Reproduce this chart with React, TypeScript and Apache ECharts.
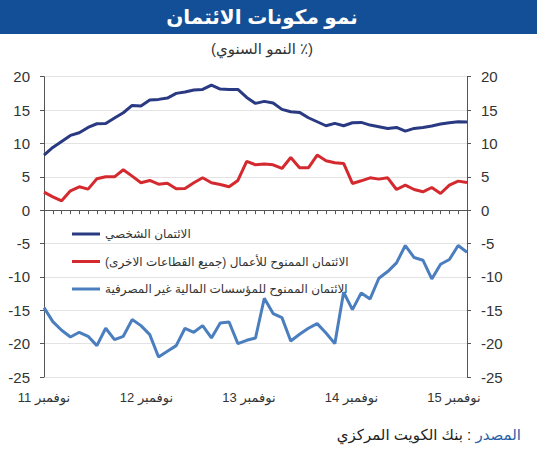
import React, { useEffect, useRef } from "react";
import * as echarts from "echarts";

const categories = [
  "2011-11", "2011-12",
  "2012-01", "2012-02", "2012-03", "2012-04", "2012-05", "2012-06", "2012-07", "2012-08", "2012-09", "2012-10", "2012-11", "2012-12",
  "2013-01", "2013-02", "2013-03", "2013-04", "2013-05", "2013-06", "2013-07", "2013-08", "2013-09", "2013-10", "2013-11", "2013-12",
  "2014-01", "2014-02", "2014-03", "2014-04", "2014-05", "2014-06", "2014-07", "2014-08", "2014-09", "2014-10", "2014-11", "2014-12",
  "2015-01", "2015-02", "2015-03", "2015-04", "2015-05", "2015-06", "2015-07", "2015-08", "2015-09", "2015-10", "2015-11",
];

const personalCredit = [
  8.25, 9.4, 10.3, 11.2, 11.6, 12.4, 12.95, 13.0, 13.8, 14.6, 15.7, 15.6, 16.5, 16.6, 16.8, 17.5, 17.7, 18.0, 18.1, 18.75,
  18.15, 18.1, 18.1, 16.9, 16.0, 16.3, 16.05, 15.1, 14.75, 14.65, 13.85, 13.25, 12.65, 13.0, 12.65, 13.1, 13.15, 12.75, 12.5,
  12.25, 12.4, 11.85, 12.25, 12.4, 12.6, 12.9, 13.1, 13.25, 13.2,
];

const businessCredit = [
  2.7, 2.0, 1.4, 2.9, 3.5, 3.15, 4.7, 5.0, 5.0, 6.05, 5.1, 4.1, 4.45, 3.9, 4.05, 3.2, 3.25, 4.1, 4.85, 4.1,
  3.85, 3.5, 4.45, 7.3, 6.8, 6.9, 6.8, 6.25, 7.9, 6.35, 6.35, 8.25, 7.4, 7.1, 7.0, 4.0, 4.4, 4.85, 4.65,
  4.85, 3.1, 3.75, 3.1, 2.75, 3.4, 2.5, 3.75, 4.35, 4.15,
];

const nbfiCredit = [
  -14.6, -16.7, -18.0, -19.0, -18.3, -18.9, -20.3, -17.7, -19.4, -18.9, -16.4, -17.3, -18.65, -22.0, -21.15, -20.3, -17.7, -18.3, -17.3, -19.15,
  -16.9, -16.75, -20.0, -19.5, -19.15, -13.2, -15.5, -16.1, -19.6, -18.6, -17.7, -17.0, -18.4, -20.0, -12.3, -14.9, -12.4, -13.3, -10.2,
  -9.2, -7.9, -5.3, -7.1, -7.5, -10.3, -8.1, -7.4, -5.3, -6.3,
];

const xTickLabels = ["نوفمبر 11", "نوفمبر 12", "نوفمبر 13", "نوفمبر 14", "نوفمبر 15"];

const seriesNames = [
  "الائتمان الشخصي",
  "الائتمان الممنوح للأعمال (جميع القطاعات الاخرى)\u200F",
  "الائتمان الممنوح للمؤسسات المالية غير المصرفية",
];
const seriesColors = ["#2a3a82", "#d42a2f", "#4a7ebf"];

const titleText = "نمو مكونات الائتمان";
const subtitleWords = "النمو السنوي";
const subtitleUnit = " ٪)";
const sourceLabel = "المصدر";
const sourceText = "بنك الكويت المركزي";

const FONT = "Arial, 'Liberation Sans', 'DejaVu Sans', sans-serif";

export default function App() {
  const ref = useRef<HTMLDivElement>(null);

  useEffect(() => {
    if (!ref.current) return;
    const chart = echarts.init(ref.current, undefined, { renderer: "svg" });
    const seriesData = [personalCredit, businessCredit, nbfiCredit];

    const yAxisBase = {
      type: "value",
      min: -25,
      max: 20,
      interval: 5,
      axisLine: { show: true, onZero: false, lineStyle: { color: "#555", width: 1 } },
      axisTick: { show: true, length: 4, lineStyle: { color: "#555" } },
      axisLabel: { margin: 14, fontSize: 15, color: "#333", fontFamily: FONT },
    };

    chart.setOption({
      animation: false,
      backgroundColor: "#ffffff",
      textStyle: { fontFamily: FONT },
      grid: { left: 44, right: 70, top: 76.7, bottom: 73, containLabel: false },
      legend: {
        orient: "vertical",
        left: 72,
        top: 227,
        padding: 0,
        icon: "rect",
        itemWidth: 28,
        itemHeight: 3,
        itemGap: 13.5,
        selectedMode: false,
        data: seriesNames,
        textStyle: { fontSize: 12, color: "#333", fontFamily: FONT, lineHeight: 14 },
      },
      xAxis: [
        {
          type: "category",
          position: "bottom",
          data: categories,
          boundaryGap: false,
          axisLine: { show: true, onZero: true, lineStyle: { color: "#555", width: 1 } },
          axisTick: { show: true, interval: 0, length: 4, lineStyle: { color: "#555" } },
          axisLabel: { show: false },
          splitLine: { show: false },
        },
        {
          type: "value",
          position: "bottom",
          min: 0,
          max: 4.127,
          interval: 1,
          axisLine: { show: false, onZero: false },
          axisTick: { show: false },
          splitLine: { show: false },
          axisLabel: {
            margin: 14,
            fontSize: 13,
            color: "#333",
            fontFamily: FONT,
            formatter: (v: number) => (Number.isInteger(v) && xTickLabels[v] ? xTickLabels[v] : ""),
          },
        },
      ],
      yAxis: [
        {
          ...yAxisBase,
          position: "left",
          splitLine: { show: true, lineStyle: { color: "#e3e3e3", width: 1 } },
        },
        {
          ...yAxisBase,
          position: "right",
          splitLine: { show: false },
        },
      ],
      series: seriesNames.map((name, i) => ({
        name,
        type: "line",
        xAxisIndex: 0,
        yAxisIndex: 0,
        data: seriesData[i],
        symbol: "none",
        lineStyle: { width: 3, color: seriesColors[i] },
        itemStyle: { color: seriesColors[i] },
        z: 3 - i,
      })),
      graphic: [
        {
          type: "rect",
          left: 0,
          top: 0,
          shape: { x: 0, y: 0, width: 537, height: 34 },
          style: { fill: "#134f96" },
          silent: true,
        },
        {
          type: "text",
          x: 262,
          y: 17,
          silent: true,
          style: {
            text: titleText,
            fill: "#ffffff",
            fontSize: 20,
            fontWeight: "bold",
            fontFamily: FONT,
            textAlign: "center",
            textVerticalAlign: "middle",
          },
        },
        {
          type: "text",
          x: 262,
          y: 48,
          silent: true,
          style: {
            text: "{p|(}{w|" + subtitleWords + "}{p|" + subtitleUnit + "}",
            textAlign: "center",
            textVerticalAlign: "middle",
            fontSize: 15,
            fontFamily: FONT,
            rich: {
              p: { fill: "#333", fontSize: 15, fontFamily: FONT },
              w: { fill: "#333", fontSize: 15, fontFamily: FONT },
            },
          },
        },
        {
          type: "text",
          x: 521,
          y: 434,
          silent: true,
          style: {
            text: "{a|" + sourceText + "}{c| : }{b|" + sourceLabel + "}",
            textAlign: "right",
            textVerticalAlign: "middle",
            fontSize: 15,
            fontFamily: FONT,
            rich: {
              a: { fill: "#222", fontSize: 15, fontFamily: FONT },
              c: { fill: "#222", fontSize: 15, fontFamily: FONT },
              b: { fill: "#2a5fa8", fontSize: 15, fontFamily: FONT },
            },
          },
        },
      ],
    });

    return () => chart.dispose();
  }, []);

  return (
    <div
      ref={ref}
      style={{ position: "absolute", left: 0, top: 0, width: 537, height: 450 }}
    />
  );
}
